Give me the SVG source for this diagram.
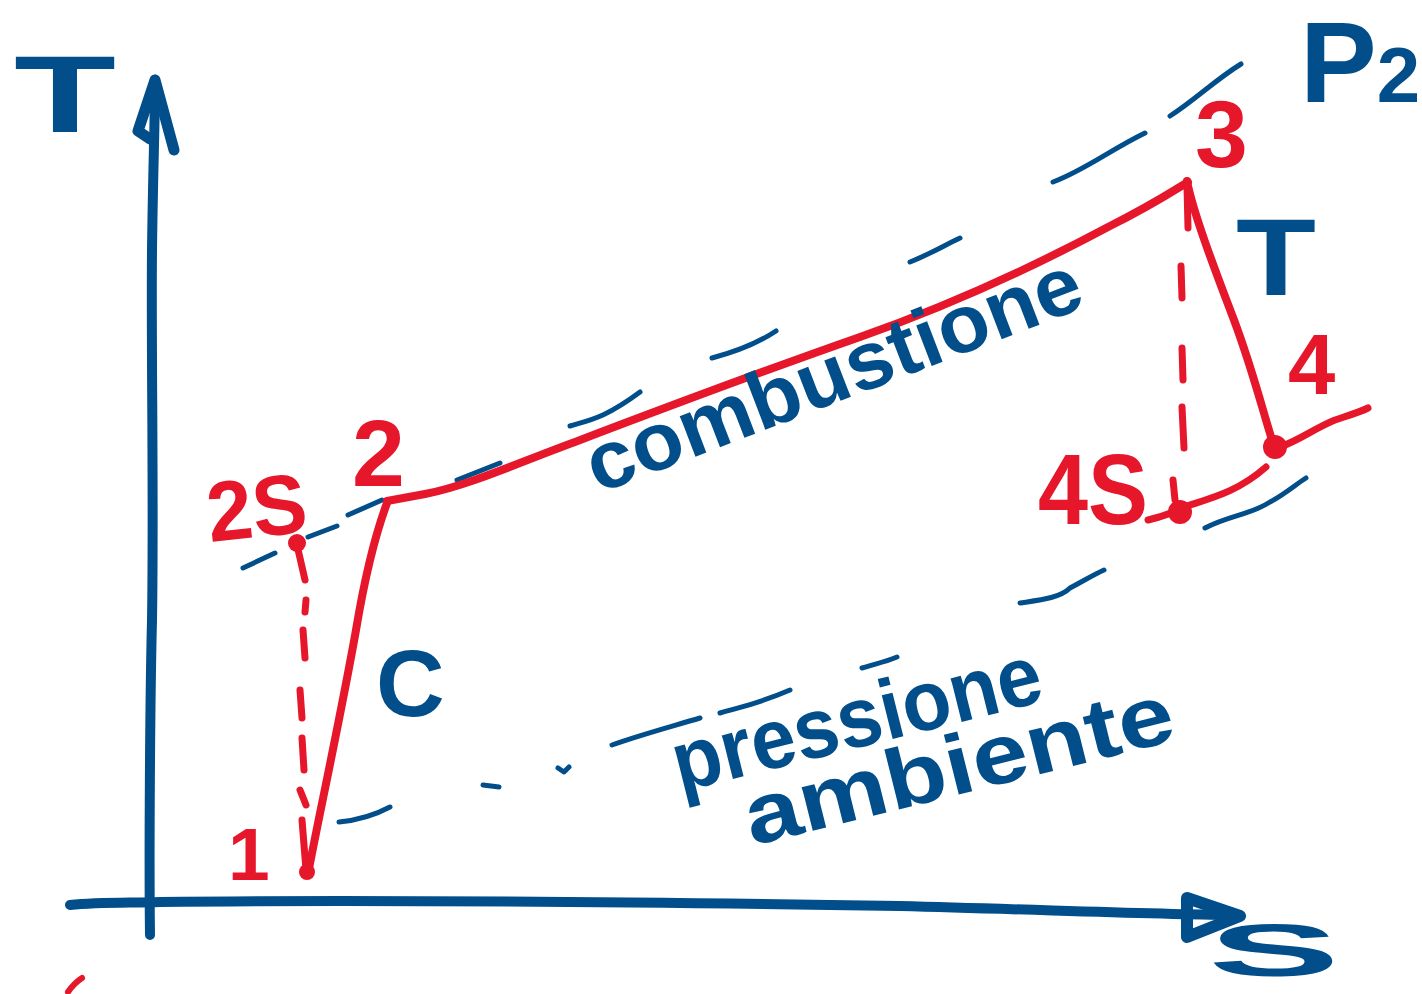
<svg xmlns="http://www.w3.org/2000/svg" width="1422" height="994" viewBox="0 0 1422 994">
<style>
.b{fill:none;stroke:#024e8a;stroke-linecap:round;stroke-linejoin:round}
.r{fill:none;stroke:#e6162b;stroke-linecap:round;stroke-linejoin:round}
.iso{stroke-width:5}
.ax{stroke-width:10}
.cy{stroke-width:8}
.tb{font-family:"Liberation Sans",Arial,sans-serif;font-weight:bold;fill:#024e8a}
.tr{font-family:"Liberation Sans",Arial,sans-serif;font-weight:bold;fill:#e6162b}
.dot{fill:#e6162b}
</style>
<rect width="1422" height="994" fill="#ffffff"/>
<g id="axes">
<path class="b ax" d="M150,935 C149,860 150,700 152,620 C154,500 151,350 152,250 C153,170 155,120 155,85"/>
<path class="b" stroke-width="11" d="M155,80 L138,131 L150,139 M155,80 L174,150"/>
<path class="b ax" d="M70,905 C100,902 130,903 160,902 C400,899 700,903 900,906 C1050,910 1150,914 1232,915"/>
<path class="b" stroke-width="12" d="M1187,898 L1240,916 L1187,937 Z"/>
</g>
<g id="isobars">
<path class="b iso" d="M243,568 L275,553 M308,537 L337,526 M348,515 L382,500 M457,480 L500,463 M570,426 C590,420 605,418 640,392 M712,358 C735,352 755,345 776,331 M910,262 C930,254 945,245 960,238 M1053,182 C1085,170 1110,150 1145,133 M1170,116 C1195,100 1215,80 1241,64"/>
<path class="b iso" d="M339,822 C360,820 375,815 390,807 M483,785 L499,787 M558,768 L564,772 L569,767 M612,745 C640,735 670,727 700,718 M720,713 C740,707 755,705 790,690 M862,668 C875,664 885,662 897,657 M1020,603 C1040,600 1060,598 1070,588 C1085,580 1095,574 1104,570 M1205,528 C1230,515 1250,515 1270,502 C1285,494 1295,485 1306,478"/>
</g>
<g id="connectors">
<path class="r cy" d="M308,874 C318,820 340,720 356,630 C366,570 377,530 387,503"/>
<path class="r cy" d="M387,501 L425,494 C470,485 520,462 575,442 C680,402 760,372 860,337 C960,302 1050,258 1110,226 C1150,206 1170,193 1188,182"/>
<path class="r cy" d="M1187,181 C1193,212 1213,265 1234,320 C1252,368 1262,408 1272,440"/>
<path class="r" stroke-width="7" d="M1187,186 L1188,228 M1181,266 L1182,298 M1182,348 L1183,380 M1182,407 L1184,448 M1173,480 L1175,500"/>
<path class="r" stroke-width="7" d="M1148,520 C1165,516 1175,512 1190,505 C1215,497 1240,490 1266,467"/>
<path class="r" stroke-width="7" d="M1280,447 C1300,440 1315,428 1335,420 C1350,415 1360,412 1368,408"/>
<path class="r" stroke-width="7" d="M297,545 L305,580 M306,600 L305,612 M303,630 L305,658 M300,690 L302,718 M302,738 L304,770 M300,790 L306,805 M302,820 L306,870"/>
<circle class="dot" cx="297" cy="543" r="9"/>
<circle class="dot" cx="307" cy="872" r="8"/>
<circle class="dot" cx="1180" cy="512" r="12"/>
<circle class="dot" cx="1275" cy="447" r="12"/>
<path class="r" stroke-width="6" d="M68,992 C72,986 76,982 82,978"/>
</g>
<g id="label-T"><text class="tb" x="14" y="132" font-size="110" textLength="102" lengthAdjust="spacingAndGlyphs">T</text></g>
<g id="label-S"><text class="tb" x="1208" y="976" font-size="74" textLength="132" lengthAdjust="spacingAndGlyphs">S</text></g>
<g id="label-P2"><text class="tb" x="1300" y="102" font-size="115">P<tspan font-size="78">2</tspan></text></g>
<g id="label-3"><text class="tr" x="1195" y="167" font-size="95">3</text></g>
<g id="label-turbine"><text class="tb" x="1236" y="295" font-size="110" textLength="80" lengthAdjust="spacingAndGlyphs">T</text></g>
<g id="label-4"><text class="tr" x="1288" y="394" font-size="85">4</text></g>
<g id="label-4S"><text class="tr" x="1038" y="524" font-size="100" textLength="110" lengthAdjust="spacingAndGlyphs">4S</text></g>
<g id="label-2"><text class="tr" x="352" y="486" font-size="95">2</text></g>
<g id="label-2S"><text class="tr" x="210" y="542" font-size="85" textLength="100" lengthAdjust="spacingAndGlyphs" transform="rotate(-6 210 542)">2S</text></g>
<g id="label-1"><text class="tr" x="228" y="880" font-size="75">1</text></g>
<g id="label-C"><text class="tb" x="376" y="716" font-size="95">C</text></g>
<g id="label-combustione"><text class="tb" x="598" y="494" font-size="82" textLength="525" lengthAdjust="spacingAndGlyphs" transform="rotate(-21 598 494)">combustione</text></g>
<g id="label-pressione"><text class="tb" x="680" y="792" font-size="85" textLength="378" lengthAdjust="spacingAndGlyphs" transform="rotate(-14 680 792)">pressione</text></g>
<g id="label-ambiente"><text class="tb" x="752" y="846" font-size="85" textLength="440" lengthAdjust="spacingAndGlyphs" transform="rotate(-14 752 846)">ambiente</text></g>
</svg>
